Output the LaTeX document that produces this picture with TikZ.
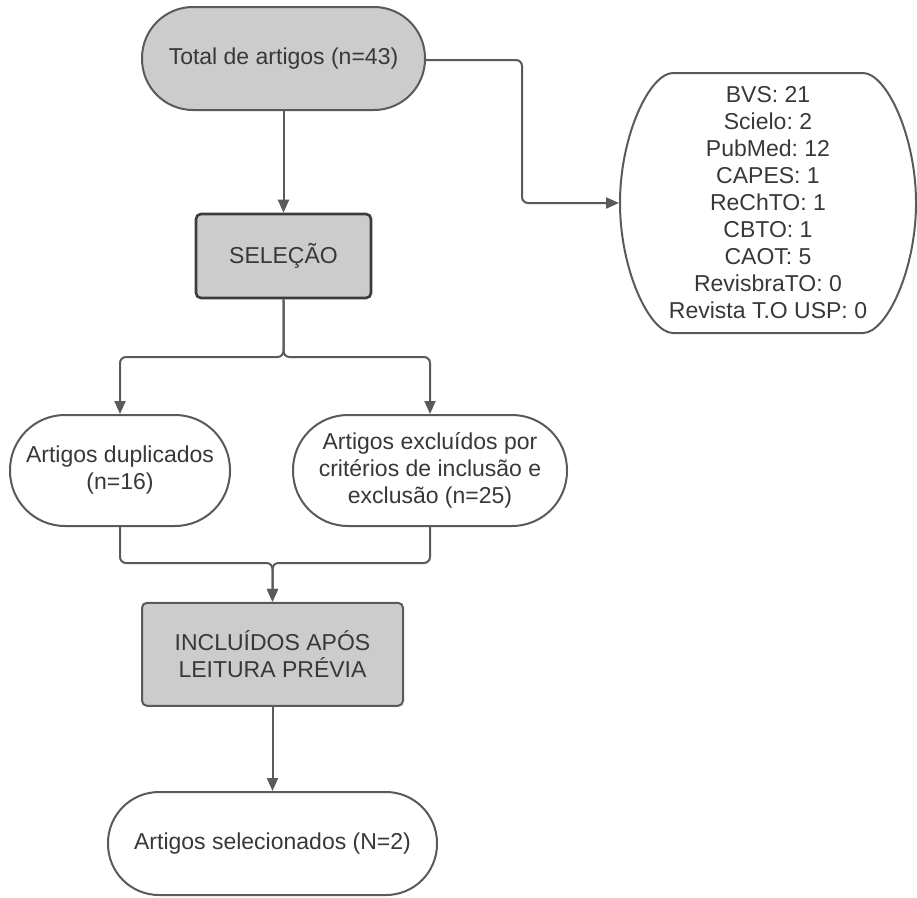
\documentclass[tikz,border=0pt]{standalone}
\usepackage{fontspec}
\setmainfont{Liberation Sans}
\frenchspacing
\usetikzlibrary{arrows.meta}
\definecolor{linegray}{HTML}{5A5A5A}
\definecolor{darkline}{HTML}{3C3C3C}
\definecolor{boxfill}{HTML}{CCCCCC}
\definecolor{txt}{HTML}{383838}
\tikzset{
  base/.style={font=\fontsize{23}{27}\selectfont, text=txt, align=center, inner sep=0pt, line width=2pt},
  pill/.style={base, draw=linegray, rounded corners=#1},
  grayrect/.style={base, draw=linegray, fill=boxfill, rounded corners=5pt},
  conn/.style={draw=linegray, line width=2pt, rounded corners=6pt},
  arr/.style={conn, -{Triangle[length=13pt,width=11pt]}},
}
\begin{document}
\begin{tikzpicture}[x=1pt,y=-1pt]
\useasboundingbox (0,0) rectangle (917,897);
\node[pill=51pt, fill=boxfill, minimum width=283pt, minimum height=103pt] (total) at (283.5,58.5) {Total de artigos (n=43)};
\node[grayrect, draw=darkline, line width=2.6pt, minimum width=175pt, minimum height=84pt] (sel) at (283.5,256) {SELEÇÃO};
\node[pill=55pt, fill=white, minimum width=220pt, minimum height=111pt] (dup) at (120,470.5) {Artigos duplicados\\(n=16)};
\node[pill=55pt, fill=white, minimum width=274pt, minimum height=111pt] (exc) at (430,470.5) {Artigos excluídos por\\critérios de inclusão e\\exclusão (n=25)};
\node[grayrect, minimum width=261pt, minimum height=103pt] (inc) at (272.5,654.3) {INCLUÍDOS APÓS\\LEITURA PRÉVIA};
\node[pill=51pt, fill=white, minimum width=329pt, minimum height=103pt] (fin) at (272.5,843.5) {Artigos selecionados (N=2)};
\node[base, minimum width=296pt, minimum height=260pt] (src) at (768,203) {BVS: 21\\Scielo: 2\\PubMed: 12\\CAPES: 1\\ReChTO: 1\\CBTO: 1\\CAOT: 5\\RevisbraTO: 0\\Revista T.O USP: 0};
% shape with bulging sides round the source list
\draw[draw=linegray, line width=2pt]
  (673,73) -- (863,73)
  .. controls (886,73) and (916,135) .. (916,203)
  .. controls (916,271) and (886,333) .. (863,333)
  -- (673,333)
  .. controls (650,333) and (620,271) .. (620,203)
  .. controls (620,135) and (650,73) .. (673,73) -- cycle;
\coordinate (c1) at (522,60);
\coordinate (c2) at (522,203);
\draw[arr] ([yshift=-1.5pt]total.east) -- (c1) -- (c2) -- (src.west);
\draw[arr] (total.south) -- (sel.north);
\coordinate (split) at (283.5,357);
\coordinate (merge) at (272.5,563);
\draw[arr] (sel.south) -- (split) -| (dup.north);
\draw[arr] (sel.south) -- (split) -| (exc.north);
\draw[arr] (dup.south) |- (merge) -- (inc.north);
\draw[arr] (exc.south) |- (merge) -- (inc.north);
\draw[arr] (inc.south) -- (fin.north);
\end{tikzpicture}
\end{document}
